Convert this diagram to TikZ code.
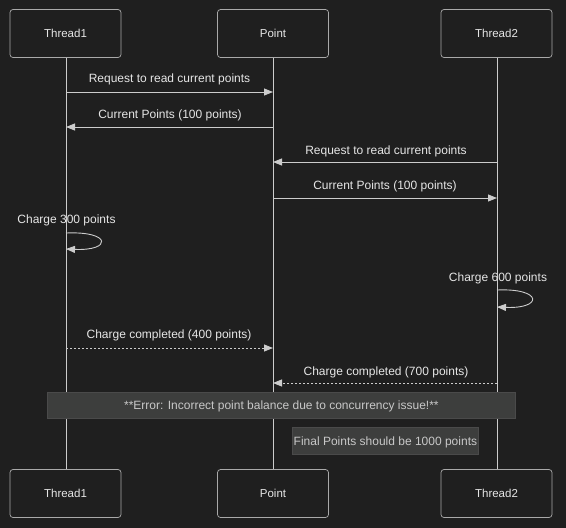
\documentclass[tikz,border=0pt]{standalone}
\usepackage{fontspec}
\setmainfont{Liberation Sans}
\usetikzlibrary{arrows.meta}
\definecolor{bg}{HTML}{1F1F1F}
\definecolor{ln}{HTML}{CCCCCC}
\definecolor{tx}{HTML}{E6E6E6}
\definecolor{notefill}{HTML}{3D3E3D}
\definecolor{notedraw}{HTML}{4A4A4A}
\tikzset{
  x=1pt, y=-1pt,
  actor/.style={draw=ln!80!bg, line width=0.7pt, rounded corners=3pt, fill=bg, minimum width=111pt, minimum height=48pt, text=tx, font=\fontsize{11.5}{13}\selectfont, inner sep=0pt},
  life/.style={draw=ln, line width=1pt},
  msg/.style={draw=ln, line width=0.9pt, -{Triangle[length=9pt,width=7pt]}},
  dmsg/.style={msg, dash pattern=on 2pt off 2pt},
  lbl/.style={text=tx, font=\fontsize{12}{14}\selectfont, inner sep=0pt},
  notebox/.style={draw=notedraw, fill=notefill, line width=0.8pt, text=tx!85!bg, font=\fontsize{12}{14}\selectfont, inner sep=0pt, anchor=north west},
}
\begin{document}
\begin{tikzpicture}
\useasboundingbox[fill=bg] (0,0) rectangle (566,528);
% lifelines coordinates
\coordinate (t1top) at (66,57); \coordinate (t1bot) at (66,469);
\coordinate (ptop) at (273,57); \coordinate (pbot) at (273,469);
\coordinate (t2top) at (497,57); \coordinate (t2bot) at (497,469);
\draw[life] (t1top) -- (t1bot);
\draw[life] (ptop) -- (pbot);
\draw[life] (t2top) -- (t2bot);
% actors
\node[actor] (T1) at (65.5,33.5) {Thread1};
\node[actor] (P) at (273,33.5) {Point};
\node[actor] (T2) at (496.5,33.5) {Thread2};
\node[actor] (T1b) at (65.5,493.5) {Thread1};
\node[actor] (Pb) at (273,493.5) {Point};
\node[actor] (T2b) at (496.5,493.5) {Thread2};
% messages
\coordinate (a1) at (66,92); \coordinate (b1) at (273,92);
\draw[msg] (a1) -- (b1);
\node[lbl] (l1) at (169.5,79.5) {Request to read current points};
\coordinate (a2) at (273,127); \coordinate (b2) at (66,127);
\draw[msg] (a2) -- (b2);
\node[lbl] (l2) at (170,115.5) {Current Points (100 points)};
\coordinate (a3) at (497,162); \coordinate (b3) at (273,162);
\draw[msg] (a3) -- (b3);
\node[lbl] (l3) at (386,151.5) {Request to read current points};
\coordinate (a4) at (273,198); \coordinate (b4) at (497,198);
\draw[msg] (a4) -- (b4);
\node[lbl] (l4) at (385,186.5) {Current Points (100 points)};
% self loops
\node[lbl] (s1) at (66.5,220.5) {Charge 300 points};
\coordinate (s1a) at (66,233); \coordinate (s1b) at (66,249);
\draw[msg] (s1a) .. controls (112,231) and (112,251) .. (s1b);
\node[lbl] (s2) at (498,278.5) {Charge 600 points};
\coordinate (s2a) at (497,290); \coordinate (s2b) at (497,307);
\draw[msg] (s2a) .. controls (543,288) and (543,309) .. (s2b);
% completed
\coordinate (a7) at (66,348); \coordinate (b7) at (273,348);
\draw[dmsg] (a7) -- (b7);
\node[lbl] (l7) at (169,335.5) {Charge completed (400 points)};
\coordinate (a8) at (497,383); \coordinate (b8) at (273,383);
\draw[dmsg] (a8) -- (b8);
\node[lbl] (l8) at (386,372.5) {Charge completed (700 points)};
% notes
\node[notebox, minimum width=468pt, minimum height=26pt] (n1) at (47,392) {};
\node[lbl, text=tx!85!bg] (n1t) at ([yshift=-1pt]n1.center) {**Error: Incorrect point balance due to concurrency issue!**};
\node[notebox, minimum width=186pt, minimum height=27pt] (n2) at (292,427) {};
\node[lbl, text=tx!85!bg] (n2t) at ([yshift=-1pt]n2.center) {Final Points should be 1000 points};
\end{tikzpicture}
\end{document}
